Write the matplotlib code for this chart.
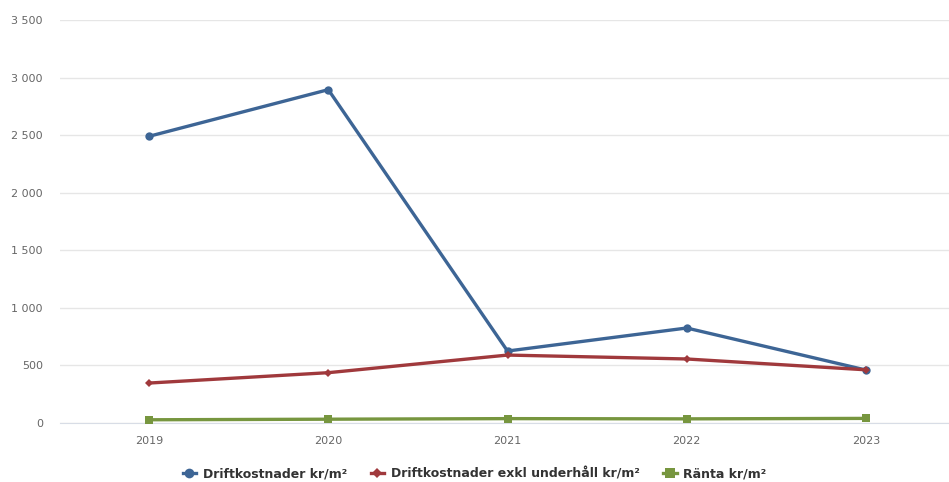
import matplotlib
matplotlib.use("Agg")
import matplotlib.pyplot as plt
from matplotlib.ticker import FuncFormatter, MultipleLocator
from matplotlib.lines import Line2D

years = ["2019", "2020", "2021", "2022", "2023"]
drift = [2490, 2895, 625, 825, 460]
drift_exkl = [347, 437, 590, 556, 462]
ranta = [28, 33, 38, 36, 40]

series_names = ["Driftkostnader kr/m²", "Driftkostnader exkl underhåll kr/m²", "Ränta kr/m²"]
colors = ["#3d6595", "#a0393c", "#77963f"]
markers = ["o", "D", "s"]
msizes = [6, 4, 6]

fig = plt.figure(figsize=(9.49, 4.82), dpi=100)
ax = fig.add_axes([59.5 / 949, 59 / 482, 896 / 949, 403 / 482])

x = list(range(len(years)))
for vals, c, m, ms in zip([drift, drift_exkl, ranta], colors, markers, msizes):
    ax.plot(x, vals, color=c, lw=2.4, marker=m, markersize=ms,
            markeredgewidth=0, solid_capstyle="round", zorder=3, clip_on=False)

ax.set_xlim(-0.5, len(years) - 0.5)
ax.set_ylim(0, 3500)
ax.yaxis.set_major_locator(MultipleLocator(500))
ax.yaxis.set_major_formatter(FuncFormatter(lambda v, p: f"{int(v):,}".replace(",", " ")))
ax.set_xticks(x)
ax.set_xticklabels(years)
ax.grid(axis="y", color="#e6e6e6", lw=1)
ax.set_axisbelow(True)
for s in ["top", "right", "left"]:
    ax.spines[s].set_visible(False)
ax.spines["bottom"].set_color("#d8dde6")
ax.tick_params(axis="both", length=0, colors="#666666", labelsize=8)
ax.tick_params(axis="y", pad=12)
ax.tick_params(axis="x", pad=9)

handles = [Line2D([0], [0], color=c, lw=2.4, marker=m, markersize=ms + 1, markeredgewidth=0)
           for c, m, ms in zip(colors, markers, msizes)]
leg = fig.legend(handles, series_names, loc="center", bbox_to_anchor=(0.5, 1 - 474 / 482),
                 ncol=3, frameon=False, handlelength=1.1, handletextpad=0.5,
                 columnspacing=1.9, prop={"weight": "bold", "size": 9})
for t in leg.get_texts():
    t.set_color("#333333")

fig.savefig("out.png", dpi=100, facecolor="white")
